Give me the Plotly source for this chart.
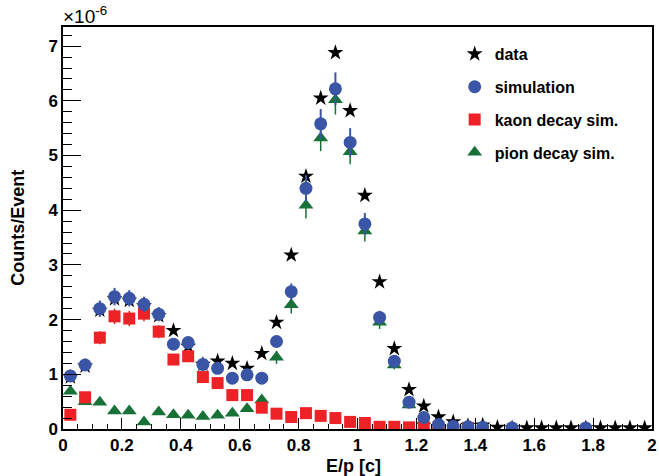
import plotly.graph_objects as go

# bin centres of E/p (width 0.05)
ep = [round(0.025 + 0.05 * i, 3) for i in range(40)]

# values in units of 1e-6 counts/event
data = [0.95, 1.15, 2.17, 2.38, 2.35, 2.25, 2.07, 1.80, 1.51, 1.18,
        1.24, 1.20, 1.11, 1.38, 1.95, 3.18, 4.62, 6.05, 6.88, 5.82,
        4.27, 2.69, 1.47, 0.72, 0.42, 0.22, 0.13, 0.06, 0.07, 0.03,
        0.02, 0.02, 0.02, 0.02, 0.02, 0.02, 0.02, 0.02, 0.02, 0.02]

simulation = [0.97, 1.17, 2.20, 2.42, 2.39, 2.28, 2.10, 1.55, 1.58, 1.18,
              1.11, 0.93, 0.99, 0.93, 1.60, 2.51, 4.40, 5.58, 6.22, 5.24,
              3.75, 2.04, 1.24, 0.49, 0.21, 0.08, 0.05, 0.04, 0.03, None,
              0.02, None, None, None, None, 0.02, None, None, None, None]
sim_err = [0.07, 0.08, 0.15, 0.16, 0.15, 0.14, 0.13, 0.10, 0.10, 0.08,
           0.08, 0.07, 0.07, 0.07, 0.10, 0.15, 0.24, 0.27, 0.30, 0.26,
           0.20, 0.12, 0.08, 0.05, 0.03, 0.02, 0.02, 0.02, 0.02, None,
           0.02, None, None, None, None, 0.02, None, None, None, None]

kaon = [0.26, 0.58, 1.67, 2.06, 2.02, 2.11, 1.78, 1.27, 1.33, 0.95,
        0.84, 0.62, 0.62, 0.39, 0.28, 0.22, 0.29, 0.24, 0.20, 0.13,
        0.11, 0.04, 0.04, 0.03, 0.03, 0.03, None, 0.02, None, None,
        None, None, None, None, None, None, None, None, None, None]
kaon_err = [0.05, 0.07, 0.12, 0.14, 0.14, 0.14, 0.12, 0.10, 0.10, 0.08,
            0.08, 0.06, 0.06, 0.05, 0.04, 0.04, 0.04, 0.04, 0.04, 0.03,
            0.03, 0.02, 0.02, 0.02, 0.02, 0.02, None, 0.02, None, None,
            None, None, None, None, None, None, None, None, None, None]

pion = [0.69, 0.50, 0.49, 0.33, 0.33, 0.13, 0.31, 0.26, 0.25, 0.23,
        0.25, 0.29, 0.37, 0.53, 1.31, 2.27, 4.09, 5.32, 6.02, 5.07,
        3.62, 1.95, 1.17, 0.44, 0.15, 0.05, 0.03, 0.02, 0.02, None,
        0.02, None, None, None, None, 0.02, None, None, None, None]
pion_err = [0.05, 0.05, 0.05, 0.04, 0.04, 0.03, 0.04, 0.04, 0.04, 0.04,
            0.04, 0.04, 0.05, 0.06, 0.12, 0.16, 0.24, 0.24, 0.27, 0.23,
            0.19, 0.12, 0.08, 0.04, 0.03, 0.02, 0.02, 0.02, 0.02, None,
            0.02, None, None, None, None, 0.02, None, None, None, None]

BLUE = "#3a55a6"
RED = "#ec2227"
GREEN = "#187237"
FONT = "Liberation Sans, Arial, Helvetica, sans-serif"

fig = go.Figure()
fig.add_trace(go.Scatter(x=ep, y=data, mode="markers", name="data",
                         marker=dict(symbol="star", size=12, color="black"),
                         legendrank=1, legendgroup="a"))
fig.add_trace(go.Scatter(x=ep, y=pion, mode="markers", name="pion decay sim.",
                         marker=dict(symbol="triangle-up", size=13, color=GREEN),
                         error_y=dict(type="data", array=pion_err, color=GREEN,
                                      thickness=1.5, width=0),
                         legendrank=4, legendgroup="d"))
fig.add_trace(go.Scatter(x=ep, y=kaon, mode="markers", name="kaon decay sim.",
                         marker=dict(symbol="square", size=12, color=RED),
                         error_y=dict(type="data", array=kaon_err, color=RED,
                                      thickness=1.5, width=0),
                         legendrank=3, legendgroup="c"))
fig.add_trace(go.Scatter(x=ep, y=simulation, mode="markers", name="simulation",
                         marker=dict(symbol="circle", size=13, color=BLUE),
                         error_y=dict(type="data", array=sim_err, color=BLUE,
                                      thickness=2, width=0),
                         legendrank=2, legendgroup="b"))

tickfont = dict(family=FONT, size=17, color="black", weight="bold")

fig.update_layout(
    width=659, height=476,
    margin=dict(l=63, r=2, t=27, b=47),
    paper_bgcolor="white", plot_bgcolor="white",
    showlegend=True,
    legend=dict(x=0.665, y=0.975, xanchor="left", yanchor="top",
                bgcolor="rgba(0,0,0,0)", borderwidth=0,
                font=dict(family=FONT, size=16, color="black", weight="bold"),
                tracegroupgap=9, traceorder="grouped"),
    xaxis=dict(range=[0, 2], dtick=0.2, tick0=0, ticks="inside", ticklen=11,
               tickwidth=1, tickcolor="black", showgrid=False, zeroline=False,
               showline=True, linecolor="black", linewidth=1.5, mirror=True,
               tickfont=tickfont, ticklabeloverflow="allow",
               minor=dict(ticks="inside", dtick=0.05, ticklen=5,
                          tickcolor="black", tickwidth=1, showgrid=False)),
    yaxis=dict(range=[0, 7.35], dtick=1, tick0=0, ticks="inside", ticklen=18,
               tickwidth=1, tickcolor="black", showgrid=False, zeroline=False,
               showline=True, linecolor="black", linewidth=1.5, mirror=True,
               tickfont=tickfont,
               minor=dict(ticks="inside", dtick=0.2, ticklen=9,
                          tickcolor="black", tickwidth=1, showgrid=False)),
    annotations=[
        dict(text="Counts/Event", xref="paper", yref="paper", x=-0.077, y=0.5,
             xanchor="center", yanchor="middle", textangle=-90, showarrow=False,
             font=dict(family=FONT, size=18, color="black", weight="bold")),
        dict(text="E/p [c]", xref="paper", yref="paper", x=0.493, y=-0.091,
             xanchor="center", yanchor="middle", showarrow=False,
             font=dict(family=FONT, size=18, color="black", weight="bold")),
        dict(text="×10<sup>-6</sup>", xref="paper", yref="paper", x=-0.003, y=1.03,
             xanchor="left", yanchor="middle", showarrow=False,
             font=dict(family=FONT, size=19, color="black")),
    ],
)

fig.write_html("out.html", config={"displayModeBar": False},
               post_script="document.body.style.margin='0';document.body.style.padding='0';")
